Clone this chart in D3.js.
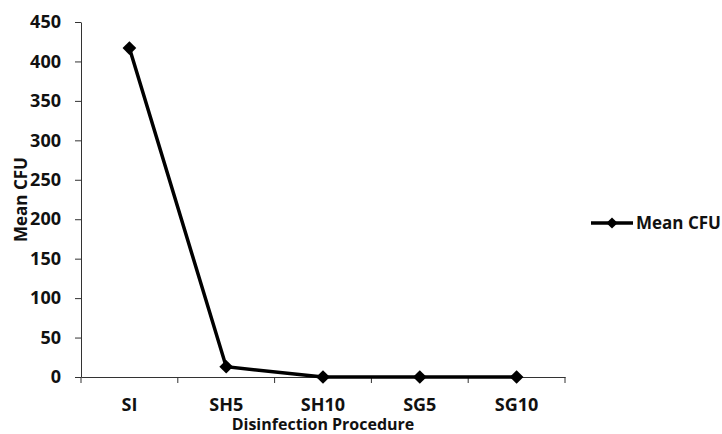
<!DOCTYPE html>
<html>
<head>
<meta charset="utf-8">
<script src="https://cdn.jsdelivr.net/npm/d3@7"></script>
<style>
  body { margin: 0; background: #fff; }
  text { font-family: "Open Sans", sans-serif; font-weight: 700; fill: #111; }
</style>
</head>
<body>
<svg id="chart" width="722" height="434"></svg>
<script>
const categories = ["SI", "SH5", "SH10", "SG5", "SG10"];
const meanCFU = [417, 13, 0, 0, 0];
const yTicks = [0, 50, 100, 150, 200, 250, 300, 350, 400, 450];
const seriesName = "Mean CFU";

const margin = {top: 22, left: 81, right: 157, bottom: 57};
const width = 722, height = 434;

const svg = d3.select("#chart");

const x = d3.scaleBand()
  .domain(categories)
  .range([margin.left, width - margin.right]);

const y = d3.scaleLinear()
  .domain([0, 450])
  .range([height - margin.bottom, margin.top]);

// y axis
const yAxis = svg.append("g")
  .attr("transform", `translate(${margin.left},0)`)
  .call(d3.axisLeft(y).tickValues(yTicks).tickSize(6).tickPadding(14).tickSizeOuter(0));
yAxis.selectAll("text").style("font-size", "18px");

// x axis with ticks on band edges
const xAxis = svg.append("g")
  .attr("transform", `translate(0,${height - margin.bottom})`)
  .call(d3.axisBottom(x).tickSize(0).tickPadding(21));
xAxis.selectAll("text").style("font-size", "18px");
const edges = categories.map(c => x(c)).concat([x.range()[1]]);
xAxis.selectAll(".edge")
  .data(edges)
  .join("line")
    .attr("x1", d => d).attr("x2", d => d)
    .attr("y1", 0).attr("y2", 6)
    .attr("stroke", "#333");

svg.selectAll(".domain").attr("stroke", "#333");
svg.selectAll(".tick line").attr("stroke", "#333");

// axis titles
svg.append("text")
  .attr("transform", `translate(27,${(margin.top + height - margin.bottom) / 2}) rotate(-90)`)
  .attr("text-anchor", "middle")
  .style("font-size", "17px")
  .text("Mean CFU");

svg.append("text")
  .attr("x", (margin.left + width - margin.right) / 2)
  .attr("y", 430)
  .attr("text-anchor", "middle")
  .style("font-size", "16px")
  .text("Disinfection Procedure");

// line
const line = d3.line()
  .x((d, i) => x(categories[i]) + x.bandwidth() / 2)
  .y(d => y(d));

svg.append("path")
  .datum(meanCFU)
  .attr("fill", "none")
  .attr("stroke", "#000")
  .attr("stroke-width", 3.5)
  .attr("d", line);

const diamond = d3.symbol().type(d3.symbolDiamond2).size(120);

svg.append("g")
  .selectAll("path")
  .data(meanCFU)
  .join("path")
    .attr("transform", (d, i) => `translate(${x(categories[i]) + x.bandwidth() / 2},${y(d)})`)
    .attr("d", diamond)
    .attr("fill", "#000");

// legend
const lg = svg.append("g").attr("transform", "translate(591,223)");
lg.append("line").attr("x1", 0).attr("x2", 42).attr("stroke", "#000").attr("stroke-width", 3.5);
lg.append("path").attr("transform", "translate(21,0)").attr("d", d3.symbol().type(d3.symbolDiamond2).size(80)).attr("fill", "#000");
lg.append("text").attr("x", 45).attr("y", 6).style("font-size", "17px").text(seriesName);
</script>
</body>
</html>
